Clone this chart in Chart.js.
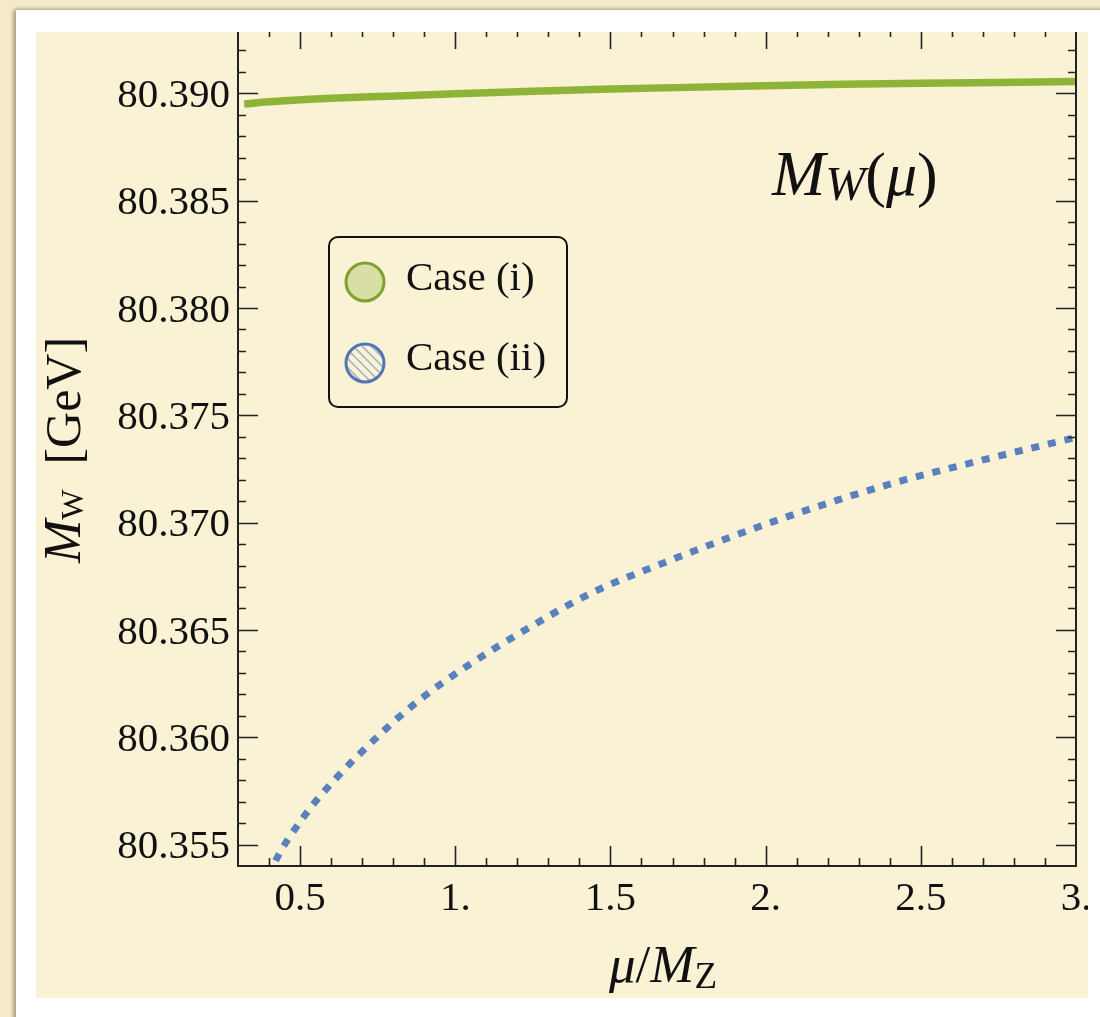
<!DOCTYPE html>
<html>
<head>
<meta charset="utf-8">
<script src="https://cdn.jsdelivr.net/npm/chart.js@4.4.1/dist/chart.umd.min.js"></script>
<style>
  body { margin: 0; background: #f5ebc9; width: 1100px; height: 1017px; overflow: hidden; position: relative; }
  .frame { position: absolute; left: 16px; top: 10px; width: 1100px; height: 1020px; background: #fff;
           box-shadow: -3px 0 4px rgba(90, 80, 50, 0.45), 0 -2px 3px rgba(90, 80, 50, 0.2); }
  .paper { position: absolute; left: 36px; top: 32px; width: 1052px; height: 966px; overflow: hidden; background: #faf2d5; }
  .paper canvas { position: absolute; left: 0; top: -3px; }
</style>
</head>
<body>
<div class="frame"></div>
<div class="paper"><canvas id="chart" width="1052" height="969"></canvas></div>
<script>
// case (i) - solid green
const muCase1 = [0.32, 0.4, 0.5, 0.6, 0.75, 1.0, 1.25, 1.5, 1.75, 2.0, 2.25, 2.5, 2.75, 3.0];
const mwCase1 = [80.38950, 80.38961, 80.38970, 80.38977, 80.38985, 80.38998, 80.39010, 80.39020,
                 80.39028, 80.39035, 80.39042, 80.39047, 80.39051, 80.39055];

// case (ii) - dotted blue
const muCase2 = [0.40, 0.413, 0.504, 0.611, 0.761, 0.885, 1.019, 1.207, 1.437, 1.641, 2.055, 2.409, 2.678, 3.0];
const mwCase2 = [80.3535, 80.35400, 80.35614, 80.35801, 80.36018, 80.36174, 80.36313, 80.36484, 80.36671,
                 80.36795, 80.37020, 80.37183, 80.37284, 80.37397];

const seriesNames = ['Case (i)', 'Case (ii)'];

const xTickValues = [0.5, 1, 1.5, 2, 2.5, 3];
const xTickLabels = ['0.5', '1.', '1.5', '2.', '2.5', '3.'];
const yTickValues = [80.355, 80.360, 80.365, 80.370, 80.375, 80.380, 80.385, 80.390];
const yTickLabels = ['80.355', '80.360', '80.365', '80.370', '80.375', '80.380', '80.385', '80.390'];

const green = '#8db436';
const blue = '#5a80be';
const serif = '"Liberation Serif", "Times New Roman", serif';

// draw a row of text pieces (for sub-scripts), centred or left aligned
function drawRuns(ctx, runs, x, y, align) {
  let total = 0;
  runs.forEach(r => { ctx.font = r.font; r.w = ctx.measureText(r.text).width; total += r.w; });
  let cx = align === 'center' ? x - total / 2 : x;
  runs.forEach(r => {
    ctx.font = r.font;
    ctx.fillText(r.text, cx, y + (r.dy || 0));
    cx += r.w;
  });
}

const decorations = {
  id: 'decorations',
  afterDraw(chart) {
    const { ctx, chartArea: a, scales: { x, y } } = chart;
    ctx.save();
    ctx.strokeStyle = '#222';
    ctx.lineWidth = 2;
    ctx.strokeRect(a.left, a.top, a.right - a.left, a.bottom - a.top);

    // inward ticks on all four sides
    ctx.lineWidth = 1.6;
    ctx.beginPath();
    for (let i = 4; i <= 29; i++) {
      const px = Math.round(x.getPixelForValue(i / 10)) + 0.5;
      const len = i % 5 === 0 ? 20 : 8;
      ctx.moveTo(px, a.bottom); ctx.lineTo(px, a.bottom - len);
      ctx.moveTo(px, a.top); ctx.lineTo(px, a.top + len);
    }
    for (let i = 80355; i <= 80392; i++) {
      const py = Math.round(y.getPixelForValue(i / 1000)) + 0.5;
      const len = i % 5 === 0 ? 20 : 8;
      ctx.moveTo(a.left, py); ctx.lineTo(a.left + len, py);
      ctx.moveTo(a.right, py); ctx.lineTo(a.right - len, py);
    }
    ctx.stroke();

    ctx.fillStyle = '#111';
    ctx.textBaseline = 'alphabetic';

    // x title
    drawRuns(ctx, [
      { text: 'μ', font: 'italic 53px ' + serif },
      { text: '/', font: '53px ' + serif },
      { text: 'M', font: 'italic 53px ' + serif },
      { text: 'Z', font: '37px ' + serif, dy: 6 }
    ], 627, 953, 'center');

    // y title
    ctx.save();
    ctx.translate(44, 421);
    ctx.rotate(-Math.PI / 2);
    drawRuns(ctx, [
      { text: 'M', font: 'italic 52px ' + serif },
      { text: 'W', font: '32px ' + serif, dy: 3 },
      { text: '  [GeV]', font: '50px ' + serif }
    ], 0, 0, 'center');
    ctx.restore();

    // M_W(mu) label
    drawRuns(ctx, [
      { text: 'M', font: 'italic 64px ' + serif },
      { text: 'W', font: 'italic 48px ' + serif, dy: 5 },
      { text: '(', font: '62px ' + serif },
      { text: 'μ', font: 'italic 62px ' + serif },
      { text: ')', font: '62px ' + serif }
    ], 736, 166, 'left');

    // legend box
    ctx.lineWidth = 2;
    ctx.strokeStyle = '#111';
    ctx.beginPath();
    ctx.roundRect(293, 208, 238, 170, 9);
    ctx.stroke();

    const cx = 329, cy1 = 253, cy2 = 334, r = 19;
    ctx.beginPath();
    ctx.arc(cx, cy1, r, 0, Math.PI * 2);
    ctx.fillStyle = 'rgba(141, 180, 54, 0.3)';
    ctx.fill();
    ctx.lineWidth = 3;
    ctx.strokeStyle = '#7fa22f';
    ctx.stroke();

    ctx.save();
    ctx.beginPath();
    ctx.arc(cx, cy2, r, 0, Math.PI * 2);
    ctx.clip();
    ctx.strokeStyle = '#a3aec2';
    ctx.lineWidth = 1.5;
    ctx.beginPath();
    for (let d = -40; d <= 40; d += 9) {
      ctx.moveTo(cx - r + d - 5, cy2 - r - 5);
      ctx.lineTo(cx + r + d + 5, cy2 + r + 5);
    }
    ctx.stroke();
    ctx.restore();
    ctx.beginPath();
    ctx.arc(cx, cy2, r, 0, Math.PI * 2);
    ctx.lineWidth = 3;
    ctx.strokeStyle = '#4f76b5';
    ctx.stroke();

    ctx.fillStyle = '#111';
    ctx.font = '41px ' + serif;
    ctx.fillText(seriesNames[0], 370, 261);
    ctx.fillText(seriesNames[1], 370, 341);
    ctx.restore();
  }
};

const ctx = document.getElementById('chart').getContext('2d');
new Chart(ctx, {
  type: 'line',
  data: {
    datasets: [
      {
        label: seriesNames[0],
        data: muCase1.map((m, i) => ({ x: m, y: mwCase1[i] })),
        borderColor: green,
        borderWidth: 7.5,
        pointRadius: 0,
        cubicInterpolationMode: 'monotone'
      },
      {
        label: seriesNames[1],
        data: muCase2.map((m, i) => ({ x: m, y: mwCase2[i] })),
        borderColor: blue,
        borderWidth: 7,
        borderDash: [8, 9],
        borderCapStyle: 'butt',
        pointRadius: 0,
        cubicInterpolationMode: 'monotone'
      }
    ]
  },
  options: {
    responsive: false,
    animation: false,
    devicePixelRatio: 1,
    layout: { padding: { left: 0, right: 12, top: 0, bottom: 0 } },
    plugins: { legend: { display: false }, tooltip: { enabled: false } },
    scales: {
      x: {
        type: 'linear',
        min: 0.3,
        max: 3.0,
        grid: { display: false, drawTicks: false },
        border: { display: false },
        afterBuildTicks: (scale) => { scale.ticks = xTickValues.map(v => ({ value: v })); },
        afterFit: (scale) => {
          scale.height = 132;
          scale.paddingLeft = 0; scale.paddingRight = 0;
        },
        ticks: {
          autoSkip: false,
          maxRotation: 0,
          padding: 9,
          color: '#111',
          font: { family: serif, size: 41 },
          callback: (v, i) => xTickLabels[i]
        }
      },
      y: {
        min: 80.354,
        max: 80.393,
        grid: { display: false, drawTicks: false },
        border: { display: false },
        afterBuildTicks: (scale) => { scale.ticks = yTickValues.map(v => ({ value: v })); },
        afterFit: (scale) => {
          scale.width = 202;
          scale.paddingTop = 0; scale.paddingBottom = 0;
        },
        ticks: {
          autoSkip: false,
          padding: 8,
          labelOffset: 3,
          color: '#111',
          font: { family: serif, size: 41 },
          callback: (v, i) => yTickLabels[i]
        }
      }
    }
  },
  plugins: [decorations]
});
</script>
</body>
</html>
